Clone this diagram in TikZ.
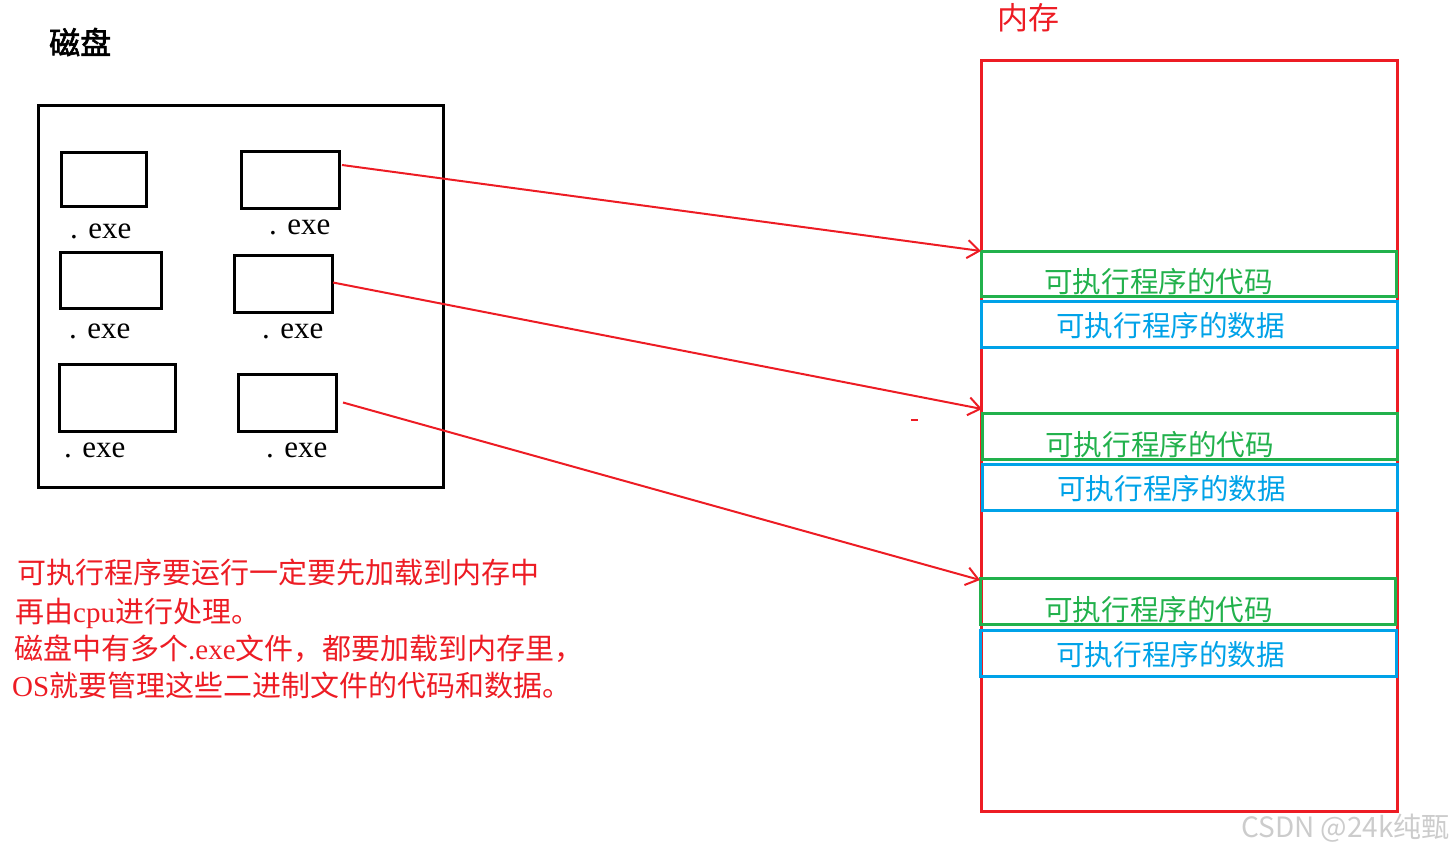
\documentclass[tikz,border=0pt]{standalone}
\usepackage{fontspec}
\setmainfont{Liberation Serif}
\newfontfamily\cjk{Noto Sans CJK SC}
\newfontfamily\cjkbold[FakeBold=2]{Noto Sans CJK SC}
\usetikzlibrary{arrows.meta,fit}
\definecolor{pred}{HTML}{ED1C24}
\definecolor{pgreen}{HTML}{22B14C}
\definecolor{pblue}{HTML}{00A2E8}
\definecolor{wm}{HTML}{CCCCCC}
\newcommand{\lat}[1]{{\rmfamily #1}}
\begin{document}
\begin{tikzpicture}[x=1pt,y=-1pt,
  rbox/.style={draw, inner sep=0pt, outer sep=0pt},
  exebox/.style={rbox, draw=black, line width=3pt},
  membox/.style={rbox, draw=pred, line width=3pt},
  codebox/.style={rbox, draw=pgreen, line width=3pt},
  databox/.style={rbox, draw=pblue, line width=3pt},
  exelabel/.style={anchor=west, inner sep=0pt, font=\fontsize{31}{34}\selectfont},
  codetext/.style={anchor=west, inner sep=0pt, text=pgreen, font=\cjk\fontsize{28.6}{32}\selectfont},
  datatext/.style={anchor=west, inner sep=0pt, text=pblue, font=\cjk\fontsize{28.6}{32}\selectfont},
  note/.style={anchor=west, inner sep=0pt, text=pred, font=\cjk\fontsize{29}{32}\selectfont},
  loadarrow/.style={draw=pred, line width=2pt, -{Straight Barb[length=12pt,width=18pt]}}
]
\useasboundingbox (0,0) rectangle (1456,854);

% disk
\node[anchor=west, inner sep=0pt, font=\cjkbold\fontsize{31}{36}\selectfont] (disklabel) at (49,42) {磁盘};
\node[exebox, fit={(38,105) (443,487)}] (disk) {};
\node[exebox, fit={(61,152) (146,206)}] (b1) {};
\node[exebox, fit={(241,151) (339,208)}] (b2) {};
\node[exebox, fit={(60,252) (161,308)}] (b3) {};
\node[exebox, fit={(234,255) (332,312)}] (b4) {};
\node[exebox, fit={(59,364) (175,431)}] (b5) {};
\node[exebox, fit={(238,374) (336,431)}] (b6) {};
\node[exelabel] (l1) at (70,231) {. exe};
\node[exelabel] (l2) at (269,227) {. exe};
\node[exelabel] (l3) at (69,331) {. exe};
\node[exelabel] (l4) at (262,331) {. exe};
\node[exelabel] (l5) at (64,450) {. exe};
\node[exelabel] (l6) at (266,450) {. exe};

% memory
\node[anchor=west, inner sep=0pt, text=pred, font=\cjk\fontsize{31}{36}\selectfont] (memlabel) at (997,18) {内存};
\node[membox, fit={(981,60) (1397,811)}] (mem) {};
\node[codebox, fit={(981,251) (1396,296)}] (g1) {};
\node[databox, fit={(981,301) (1397,347)}] (d1) {};
\node[codebox, fit={(982,413) (1397,459)}] (g2) {};
\node[databox, fit={(982,464) (1397,510)}] (d2) {};
\node[codebox, fit={(980,578) (1395,624)}] (g3) {};
\node[databox, fit={(980,630) (1396,676)}] (d3) {};
\node[codetext] (gt1) at (1044,281.5) {可执行程序的代码};
\node[datatext] (dt1) at (1056,325.5) {可执行程序的数据};
\node[codetext] (gt2) at (1045,445) {可执行程序的代码};
\node[datatext] (dt2) at (1057,488.5) {可执行程序的数据};
\node[codetext] (gt3) at (1044,610) {可执行程序的代码};
\node[datatext] (dt3) at (1056,654.5) {可执行程序的数据};

% arrows
\draw[loadarrow] ([xshift=3pt,yshift=14.5pt]b2.east) -- (g1.north west);
\draw[loadarrow] ([xshift=1pt,yshift=1pt]b4.east) -- ([yshift=4pt]g2.north west);
\draw[loadarrow] ([xshift=7pt]b6.east) -- ([yshift=-2pt]g3.north west);
\coordinate (dashA) at (911,420);
\coordinate (dashB) at (918,420);
\draw[draw=pred, line width=2pt] (dashA) -- (dashB);

% notes
\node[note] (n1) at (17,572) {可执行程序要运行一定要先加载到内存中};
\node[note] (n2) at (15,613) {再由\lat{cpu}进行处理。};
\node[note] (n3) at (14,649) {磁盘中有多个\lat{.exe}文件，都要加载到内存里，};
\node[note] (n4) at (12,685) {\lat{OS}就要管理这些二进制文件的代码和数据。};

% watermark
\node[anchor=west, inner sep=0pt, text=wm, font=\cjk\fontsize{28}{32}\selectfont] (wmark) at (1241,828) {CSDN @24k纯甄};
\end{tikzpicture}
\end{document}
